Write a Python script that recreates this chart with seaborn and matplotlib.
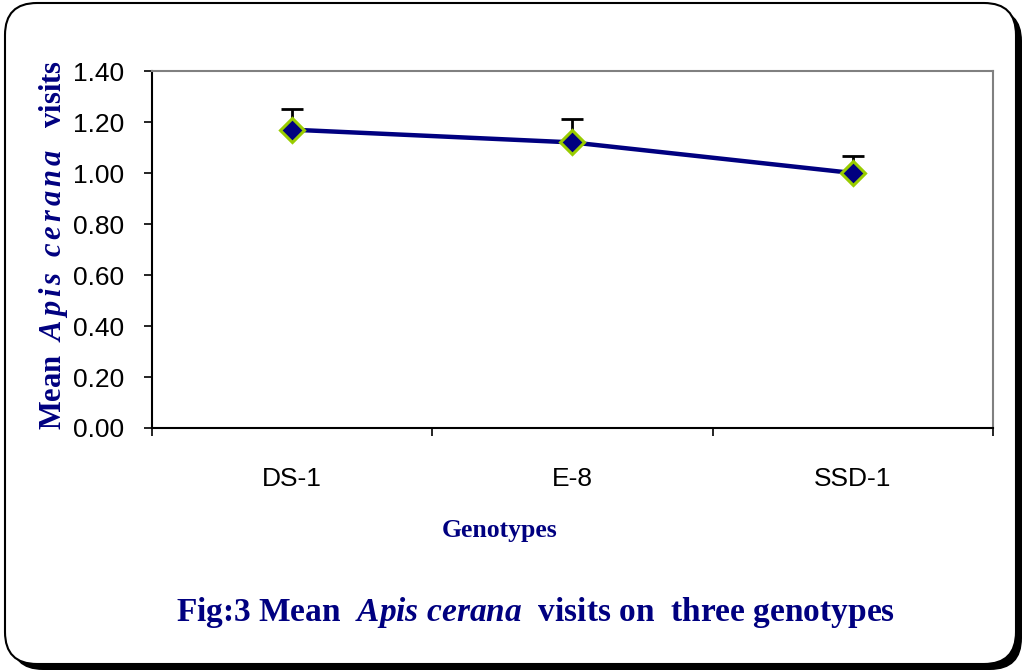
import pandas as pd
import matplotlib.pyplot as plt
import seaborn as sns
from matplotlib.patches import FancyBboxPatch

sns.set_theme(style="white")
plt.rcParams['font.family'] = ['Liberation Sans', 'DejaVu Sans']
plt.rcParams['mathtext.fontset'] = 'custom'
plt.rcParams['mathtext.rm'] = 'Liberation Serif:bold'
plt.rcParams['mathtext.it'] = 'Liberation Serif:italic:bold'
plt.rcParams['mathtext.bf'] = 'Liberation Serif:bold'

# data
genotypes = ['DS-1', 'E-8', 'SSD-1']
mean_visits = [1.17, 1.12, 1.00]
sem_visits = [0.08, 0.09, 0.065]
y_ticks = [0.0, 0.2, 0.4, 0.6, 0.8, 1.0, 1.2, 1.4]

df = pd.DataFrame({'genotype': genotypes, 'visits': mean_visits, 'err': sem_visits})

navy = '#000080'
fig = plt.figure(figsize=(10.22, 6.72), dpi=100)

# background frame with shadow
bg = fig.add_axes([0, 0, 1, 1], zorder=-1)
bg.set_xlim(0, 1022)
bg.set_ylim(672, 0)
bg.axis('off')
bg.add_patch(FancyBboxPatch((11, 9), 1011, 661, boxstyle='round,pad=0,rounding_size=32',
                            facecolor='black', edgecolor='black', lw=0))
bg.add_patch(FancyBboxPatch((5, 3), 1011, 661, boxstyle='round,pad=0,rounding_size=32',
                            facecolor='white', edgecolor='black', lw=1.5))

ax = fig.add_axes([0.1487, 0.3631, 0.8229, 0.5312])
ax.set_facecolor('none')

ax.errorbar(x=range(len(genotypes)), y=df['visits'], yerr=[[0] * len(genotypes), df['err']],
            fmt='none', ecolor='black', elinewidth=2, capsize=8, capthick=2, zorder=2)
sns.pointplot(data=df, x='genotype', y='visits', color=navy, markers='D', errorbar=None,
              linewidth=3.2, markersize=12, markeredgecolor='#99cc00', markeredgewidth=2.2,
              ax=ax, zorder=3)

ax.set_xlim(-0.5, 2.5)
ax.set_ylim(0, 1.4)
ax.set_yticks(y_ticks)
ax.set_yticklabels([f"{v:.2f}" for v in y_ticks], fontsize=19)
ax.set_xticks(range(len(genotypes)))
ax.set_xticklabels(genotypes, fontsize=19)
ax.set_xticks([-0.5, 0.5, 1.5, 2.5], minor=True)
ax.tick_params(axis='x', which='major', length=0, pad=28, colors='black')
ax.tick_params(axis='x', which='minor', length=6, width=1.2, direction='out', color='black', bottom=True)
ax.tick_params(axis='y', length=6, width=1.2, direction='out', pad=14, colors='black', left=True)
ax.set_xlabel('')
ax.set_ylabel('')

for side in ['top', 'right']:
    ax.spines[side].set_color('#808080')
    ax.spines[side].set_linewidth(1.5)
for side in ['left', 'bottom']:
    ax.spines[side].set_color('black')
    ax.spines[side].set_linewidth(1.5)

fig.text(500 / 1022, 1 - 530 / 672, 'Genotypes', fontsize=18.5, color=navy,
         family='Liberation Serif', fontweight='bold', ha='center', va='center')
fig.text(54 / 1022, 1 - 245 / 672, r'Mean  $\it{A\,p\,i\,s\ \ c\,e\,r\,a\,n\,a}$   visits', fontsize=22,
         color=navy, family='Liberation Serif', fontweight='bold', rotation=90, ha='center', va='center')
fig.text(535 / 1022, 1 - 612 / 672, r'Fig:3 Mean  $\it{Apis\ cerana}$  visits on  three genotypes',
         fontsize=24, color=navy, family='Liberation Serif', fontweight='bold', ha='center', va='center')

plt.savefig('out.png', dpi=100)
